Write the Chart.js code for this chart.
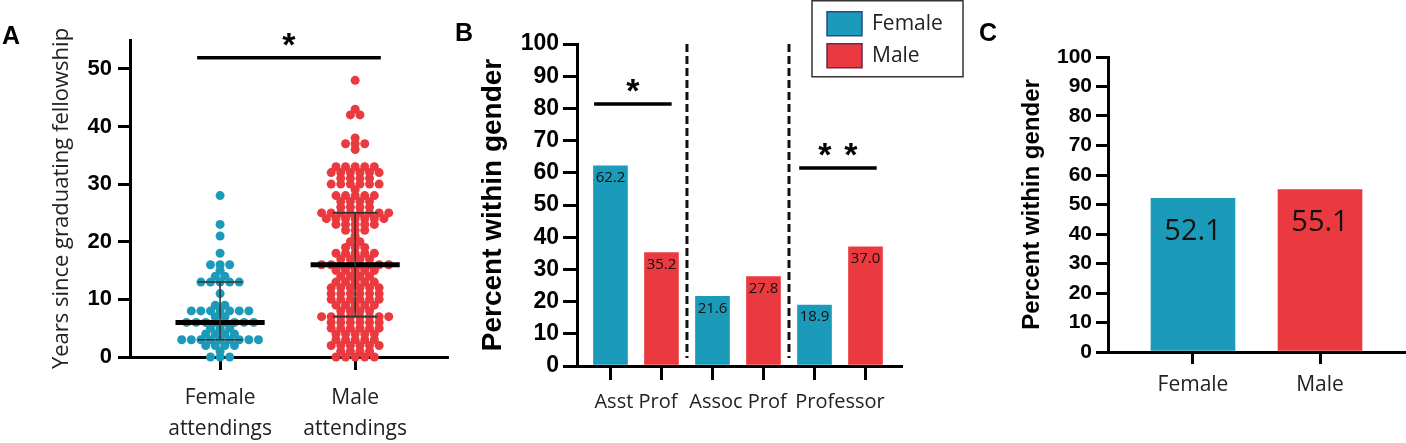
<!DOCTYPE html>
<html>
<head>
<meta charset="utf-8">
<script src="https://cdn.jsdelivr.net/npm/chart.js@4.4.0/dist/chart.umd.min.js"></script>
<style>
  html, body { margin: 0; padding: 0; background: #fff; }
  #wrap { position: relative; width: 1406px; height: 443px; overflow: hidden; background: #fff; }
  .panel { position: absolute; top: 0; height: 443px; }
  .letter { position: absolute; font: bold 25px "Liberation Sans", Arial, sans-serif; line-height: 25px; color: #000; }
</style>
</head>
<body>
<div id="wrap">
  <div class="panel" style="left:0;width:460px"><canvas id="chartA"></canvas></div>
  <div class="panel" style="left:460px;width:510px"><canvas id="chartB"></canvas></div>
  <div class="panel" style="left:970px;width:436px"><canvas id="chartC"></canvas></div>
  <div class="letter" style="left:2px;top:23px">A</div>
  <div class="letter" style="left:455px;top:20px">B</div>
  <div class="letter" style="left:979px;top:20px">C</div>
</div>
<script>
// Panel A: years since graduating fellowship (one value per attending)
const groupsA = [['Female', 'attendings'], ['Male', 'attendings']];
const yearsFemale = [0, 0, 0, 1, 2, 2, 2, 2, 3, 3, 3, 3, 3, 3, 3, 3, 3, 4, 4, 4, 4, 5, 5, 5,
  6, 6, 6, 6, 6, 6, 6, 6, 7, 7, 8, 8, 8, 8, 8, 8, 8, 9, 9, 11, 13, 13, 13, 13, 13,
  14, 14, 15, 16, 16, 16, 18, 21, 23, 28];
const yearsMale = [0, 0, 0, 0, 0, 1, 1, 1, 1, 2, 2, 2, 2, 2, 2, 3, 3, 3, 3, 3,
  4, 4, 4, 4, 4, 5, 5, 5, 5, 5, 5, 6, 6, 6, 6, 6, 6, 7, 7, 7, 7, 7, 7, 7, 7,
  8, 8, 8, 8, 9, 9, 9, 9, 9, 10, 10, 10, 10, 10, 10, 11, 11, 11, 11, 11, 11,
  12, 12, 12, 12, 12, 12, 13, 13, 13, 13, 13, 14, 14, 14, 14, 15, 15, 15, 15, 15,
  16, 16, 16, 16, 16, 16, 16, 16, 17, 17, 17, 17, 18, 18, 18, 18, 18, 19, 19, 19,
  20, 20, 21, 22, 22, 22, 23, 23, 23, 23, 23, 24, 24, 24, 24, 24, 24, 24,
  25, 25, 25, 25, 25, 25, 25, 25, 26, 26, 26, 26, 27, 27, 27, 27, 28, 28, 28, 28, 28,
  29, 30, 30, 30, 30, 30, 30, 31, 31, 31, 31, 32, 32, 32, 32, 32, 32, 33, 33, 33, 33, 33,
  36, 37, 37, 37, 38, 42, 42, 43, 48];

// Panel B: percent within gender by rank
const ranks = ['Asst Prof', 'Assoc Prof', 'Professor'];
const pctFemaleByRank = [62.2, 21.6, 18.9];
const pctMaleByRank = [35.2, 27.8, 37.0];

// Panel C: percent within gender
const genders = ['Female', 'Male'];
const pctByGender = [52.1, 55.1];

const TEAL = '#1b9bb9';
const RED = '#eb3a3f';
const NUM_FONT = '"Liberation Sans", Arial, sans-serif';
const TXT_FONT = '"Open Sans", "Liberation Sans", sans-serif';

Chart.defaults.animation = false;
Chart.defaults.font.family = TXT_FONT;

// dot-plot layout: equal values sit on one row, spread around the group centre
function swarm(values, center, step) {
  const rows = {};
  values.forEach(v => (rows[v] = rows[v] || []).push(v));
  const pts = [];
  Object.keys(rows).forEach(k => {
    const n = rows[k].length;
    rows[k].forEach((v, i) => pts.push({ x: center + (i - (n - 1) / 2) * step, y: v }));
  });
  return pts;
}

function quant(values, p) {
  const s = [...values].sort((a, b) => a - b);
  return s[Math.round(p * (s.length - 1))];
}

function lineSet(pts, w, c) {
  return { type: 'line', data: pts, showLine: true, borderColor: c, borderWidth: w,
    pointRadius: 0, fill: false, order: 0, clip: false };
}

// median with interquartile range
function summaryLines(values, center) {
  const med = quant(values, 0.5), q1 = quant(values, 0.25), q3 = quant(values, 0.75);
  return [
    lineSet([{ x: center, y: q1 }, { x: center, y: q3 }], 1.6, '#333'),
    lineSet([{ x: center - 0.165, y: q1 }, { x: center + 0.165, y: q1 }], 1.6, '#333'),
    lineSet([{ x: center - 0.165, y: q3 }, { x: center + 0.165, y: q3 }], 1.6, '#333'),
    lineSet([{ x: center - 0.33, y: med }, { x: center + 0.33, y: med }], 5, '#000')
  ];
}

// stars, separators, value labels, boxed legend
const figNotes = {
  id: 'figNotes',
  afterDatasetsDraw(chart, args, opts) {
    const { ctx } = chart;
    const xs = chart.scales.x, ys = chart.scales.y;
    ctx.save();

    (opts.separators || []).forEach(s => {
      const px = xs.getPixelForValue(s.x);
      ctx.setLineDash([8, 4]);
      ctx.lineWidth = 3;
      ctx.strokeStyle = '#111';
      ctx.beginPath();
      ctx.moveTo(px, ys.getPixelForValue(s.top));
      ctx.lineTo(px, ys.getPixelForValue(s.bottom));
      ctx.stroke();
    });
    ctx.setLineDash([]);

    if (opts.valueLabels) {
      const vl = opts.valueLabels;
      ctx.font = vl.font;
      ctx.fillStyle = '#111';
      ctx.textAlign = 'center';
      ctx.textBaseline = 'middle';
      chart.data.datasets.forEach((ds, i) => {
        chart.getDatasetMeta(i).data.forEach((el, j) => {
          ctx.fillText(ds.data[j].y.toFixed(1), el.x, el.y + vl.offset);
        });
      });
    }

    (opts.sig || []).forEach(s => {
      const x0 = xs.getPixelForValue(s.from), x1 = xs.getPixelForValue(s.to);
      const yy = ys.getPixelForValue(s.y);
      ctx.lineWidth = 3.5;
      ctx.strokeStyle = '#000';
      ctx.beginPath();
      ctx.moveTo(x0, yy);
      ctx.lineTo(x1, yy);
      ctx.stroke();
      const size = 34;
      ctx.font = 'bold ' + size + 'px ' + NUM_FONT;
      ctx.fillStyle = '#000';
      ctx.textAlign = 'center';
      ctx.textBaseline = 'alphabetic';
      const n = s.text.length, xc = (x0 + x1) / 2;
      const base = ys.getPixelForValue(s.textY) + size * 0.57;
      for (let k = 0; k < n; k++) ctx.fillText('*', xc + (k - (n - 1) / 2) * 26, base);
    });

    if (opts.legend) {
      const lg = opts.legend;
      ctx.lineWidth = 1.5;
      ctx.strokeStyle = '#333';
      ctx.strokeRect(lg.x, lg.y, lg.w, lg.h);
      ctx.font = '21px ' + TXT_FONT;
      ctx.textAlign = 'left';
      ctx.textBaseline = 'middle';
      chart.data.datasets.forEach((ds, i) => {
        const top = lg.y + 11 + i * 32;
        ctx.fillStyle = ds.backgroundColor;
        ctx.fillRect(lg.x + 15, top, 35, 24);
        ctx.lineWidth = 1.5;
        ctx.strokeStyle = lg.edges[i];
        ctx.strokeRect(lg.x + 15, top, 35, 24);
        ctx.fillStyle = '#222';
        ctx.fillText(ds.label, lg.x + 60, top + 12);
      });
    }
    ctx.restore();
  }
};

const axisGrid = len => ({ drawOnChartArea: false, drawTicks: true, tickLength: len, lineWidth: 3,
  color: '#000', offset: false });
const axisBorder = { display: true, color: '#000', width: 3 };
// fixed axis size, no automatic edge padding
const fixH = h => s => { s.height = h; s.paddingLeft = 0; s.paddingRight = 0; };
const fixW = w => s => { s.width = w; s.paddingTop = 0; s.paddingBottom = 0; };

// ---------- Panel A ----------
new Chart(document.getElementById('chartA'), {
  type: 'scatter',
  data: {
    datasets: [
      ...summaryLines(yearsFemale, 1),
      ...summaryLines(yearsMale, 2),
      { label: 'Female', data: swarm(yearsFemale, 1, 0.071), backgroundColor: TEAL, borderWidth: 0,
        pointRadius: 4.5, order: 1, clip: false },
      { label: 'Male', data: swarm(yearsMale, 2, 0.071), backgroundColor: RED, borderWidth: 0,
        pointRadius: 4.5, order: 1, clip: false }
    ]
  },
  options: {
    responsive: true,
    maintainAspectRatio: false,
    layout: { padding: { left: 46, right: 13, top: 40, bottom: 0 } },
    plugins: {
      legend: { display: false },
      tooltip: { enabled: false },
      figNotes: { sig: [{ from: 0.83, to: 2.19, y: 51.9, text: '*', textY: 55.6 }] }
    },
    scales: {
      x: {
        type: 'linear', min: 0.333, max: 2.68, offset: false,
        afterBuildTicks: s => { s.ticks = [{ value: 1 }, { value: 2 }]; },
        afterFit: fixH(86),
        ticks: { callback: (v, i) => groupsA[i], color: '#222', padding: 12,
          font: { family: TXT_FONT, size: 21, lineHeight: 1.5 } },
        grid: axisGrid(13),
        border: axisBorder
      },
      y: {
        min: 0, max: 55,
        afterFit: fixW(84),
        ticks: { stepSize: 10, includeBounds: false, color: '#000', padding: 6,
          font: { family: NUM_FONT, size: 22, weight: 'bold' } },
        grid: axisGrid(12),
        border: axisBorder,
        title: { display: true, text: 'Years since graduating fellowship', color: '#222',
          padding: { top: 3, bottom: 0 }, font: { family: TXT_FONT, size: 22 } }
      }
    }
  },
  plugins: [figNotes]
});

// ---------- Panel B ----------
const barSpots = [];
ranks.forEach((r, i) => barSpots.push(i - 0.25, i + 0.25));

new Chart(document.getElementById('chartB'), {
  type: 'bar',
  data: {
    datasets: [
      { label: 'Female', data: pctFemaleByRank.map((v, i) => ({ x: i - 0.25, y: v })), backgroundColor: TEAL },
      { label: 'Male', data: pctMaleByRank.map((v, i) => ({ x: i + 0.25, y: v })), backgroundColor: RED }
    ]
  },
  options: {
    responsive: true,
    maintainAspectRatio: false,
    grouped: false,
    barThickness: 34,
    layout: { padding: { left: 4, right: 69, top: 44, bottom: 0 } },
    plugins: {
      legend: { display: false },
      tooltip: { enabled: false },
      figNotes: {
        separators: [{ x: 0.5, top: 100, bottom: 2.5 }, { x: 1.5, top: 100, bottom: 2.5 }],
        valueLabels: { font: '15px ' + TXT_FONT, offset: 12 },
        sig: [
          { from: -0.41, to: 0.35, y: 81.4, text: '*', textY: 87.9 },
          { from: 1.6, to: 2.36, y: 61.5, text: '**', textY: 68 }
        ],
        legend: { x: 352, y: 0.75, w: 151, h: 76, edges: ['#2a4a86', '#6a2a4a'] }
      }
    },
    scales: {
      x: {
        type: 'linear', min: -0.578, max: 2.598, position: 'bottom', weight: 0, offset: false,
        afterBuildTicks: s => { s.ticks = barSpots.map(v => ({ value: v })); },
        afterFit: fixH(14),
        ticks: { display: false },
        grid: axisGrid(14),
        border: axisBorder
      },
      xl: {
        type: 'linear', min: -0.578, max: 2.598, position: 'bottom', weight: 1, offset: false,
        afterBuildTicks: s => { s.ticks = ranks.map((r, i) => ({ value: i })); },
        afterFit: fixH(63),
        ticks: { callback: (v, i) => ranks[i], color: '#222', padding: 10, autoSkip: false,
          maxRotation: 0, font: { family: TXT_FONT, size: 20 } },
        grid: { display: false, drawTicks: false, offset: false },
        border: { display: false }
      },
      y: {
        min: 0, max: 100,
        afterFit: fixW(113),
        ticks: { stepSize: 10, color: '#000', padding: 4,
          font: { family: NUM_FONT, size: 23, weight: 'bold' } },
        grid: axisGrid(14),
        border: axisBorder,
        title: { display: true, text: 'Percent within gender', color: '#000',
          padding: { top: 12, bottom: 0 }, font: { family: NUM_FONT, size: 28, weight: 'bold' } }
      }
    }
  },
  plugins: [figNotes]
});

// ---------- Panel C ----------
new Chart(document.getElementById('chartC'), {
  type: 'bar',
  data: {
    datasets: [
      { label: 'Percent within gender', data: pctByGender.map((v, i) => ({ x: i, y: v })),
        backgroundColor: [TEAL, RED] }
    ]
  },
  options: {
    responsive: true,
    maintainAspectRatio: false,
    barThickness: 84,
    layout: { padding: { left: 40, right: 0, top: 57, bottom: 0 } },
    plugins: {
      legend: { display: false },
      tooltip: { enabled: false },
      figNotes: { valueLabels: { font: '29px ' + TXT_FONT, offset: 33 } }
    },
    scales: {
      x: {
        type: 'linear', min: -0.669, max: 1.677, offset: false,
        afterBuildTicks: s => { s.ticks = genders.map((g, i) => ({ value: i })); },
        afterFit: fixH(91),
        ticks: { callback: (v, i) => genders[i], color: '#222', padding: 8, autoSkip: false,
          maxRotation: 0, font: { family: TXT_FONT, size: 21 } },
        grid: axisGrid(12),
        border: axisBorder
      },
      y: {
        min: 0, max: 100,
        afterFit: fixW(98),
        ticks: { stepSize: 10, color: '#000', padding: 4,
          font: { family: NUM_FONT, size: 21, weight: 'bold' } },
        grid: axisGrid(12),
        border: axisBorder,
        title: { display: true, text: 'Percent within gender', color: '#000',
          padding: { top: 8, bottom: 0 }, font: { family: NUM_FONT, size: 24, weight: 'bold' } }
      }
    }
  },
  plugins: [figNotes]
});
</script>
</body>
</html>
